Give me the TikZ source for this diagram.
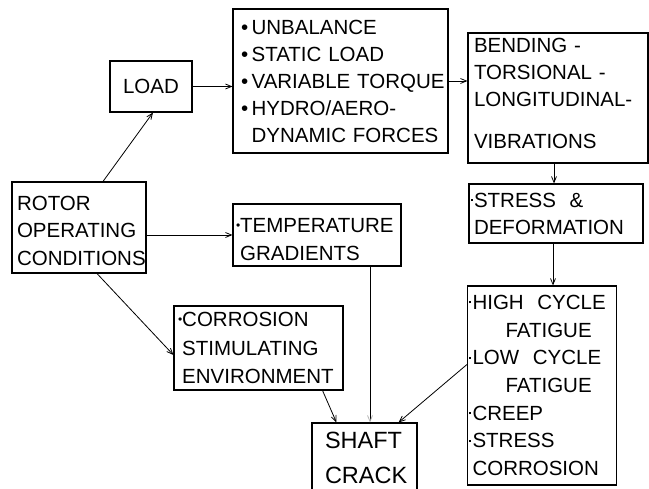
\documentclass[tikz,border=0pt]{standalone}
\usepackage{fontspec}
\setmainfont{Liberation Sans}
\usetikzlibrary{arrows.meta}
\newcommand\mybul{\textbullet\,}
\newcommand\sbul{\raisebox{3pt}{\fontsize{12}{12}\selectfont\textbullet}}
\newcommand\sdot{\llap{\rule[6pt]{2pt}{2pt}\hspace{1.5pt}}}
\begin{document}
\begin{tikzpicture}[x=1pt,y=-1pt,
  box/.style={draw, line width=1.1pt, inner ysep=0pt, align=left,
    font=\fontsize{20.5}{27}\selectfont},
  arr/.style={line width=0.8pt, -{Straight Barb[length=6pt,width=5pt]}}]
\clip (0,0) rectangle (649,489);
\fill[white] (0,0) rectangle (649,489);

\node[box, align=center, inner xsep=0pt, minimum width=82pt, minimum height=51pt] (load) at (151,86.5) {LOAD};

\node[box, inner xsep=8pt, text width=199pt, minimum width=215pt, minimum height=144pt] (unb) at (340.5,81)
  {\mbox{\mybul UNBALANCE}\\\mbox{\mybul STATIC LOAD}\\\mbox{\mybul VARIABLE TORQUE}\\\mbox{\mybul HYDRO/AERO-}\\\mbox{\phantom{\mybul}DYNAMIC FORCES}};

\node[box, inner xsep=6pt, text width=168pt, minimum width=180pt, minimum height=130pt] (vib) at (558,98)
  {\mbox{BENDING -}\\\mbox{TORSIONAL -}\\\mbox{LONGITUDINAL-}\\[15pt]\mbox{VIBRATIONS}\rule[-9pt]{0pt}{9pt}};

\node[box, inner xsep=5pt, text width=164pt, minimum width=174pt, minimum height=59pt] (stress) at (556,213.5)
  {\mbox{\sdot STRESS\ \ \&}\\\mbox{DEFORMATION}};

\node[box, font=\fontsize{20.5}{27.7}\selectfont, inner xsep=5pt, text width=139pt, minimum width=149pt, minimum height=199pt] (hc) at (542,385.5)
  {\mbox{\sdot HIGH\ \ CYCLE}\\\mbox{\hspace*{33pt}FATIGUE}\\\mbox{\sdot LOW\ \ CYCLE}\\\mbox{\hspace*{33pt}FATIGUE}\\\mbox{\sdot CREEP}\\\mbox{\sdot STRESS}\\\mbox{CORROSION}};

\node[box, font=\fontsize{20.5}{27.5}\selectfont, inner xsep=5pt, text width=124pt, minimum width=134pt, minimum height=91pt] (rotor) at (79,227.5)
  {\mbox{\rule{0pt}{20.5pt}ROTOR}\\\mbox{OPERATING}\\\mbox{CONDITIONS}};

\node[box, font=\fontsize{20.5}{28}\selectfont, inner xsep=3pt, text width=162pt, minimum width=168pt, minimum height=62pt] (temp) at (317,235)
  {\mbox{\rule{0pt}{22.5pt}\sbul TEMPERATURE}\\\mbox{\phantom{\sbul}GRADIENTS}};

\node[box, font=\fontsize{20.5}{28.5}\selectfont, inner xsep=4pt, text width=161pt, minimum width=169pt, minimum height=84pt] (corr) at (258.5,348)
  {\mbox{\sbul CORROSION}\\\mbox{\phantom{\sbul}STIMULATING}\\\mbox{\phantom{\sbul}ENVIRONMENT}};

\node[box, font=\fontsize{23.5}{35}\selectfont, inner xsep=13pt, text width=79pt, minimum width=105pt, minimum height=77pt] (shaft) at (364.5,461.5)
  {SHAFT\\CRACK\rule[-7pt]{0pt}{7pt}};

\draw[arr] ([xshift=24pt]rotor.north) -- ([xshift=2pt]load.south);
\draw[arr] (load.east) -- (unb.west |- load.east);
\draw[arr] (unb.east) -- (vib.west |- unb.east);
\draw[arr] (554,0 |- vib.south) -- (554,0 |- stress.north);
\draw[arr] (553,0 |- stress.south) -- (553,0 |- hc.north);
\draw[arr] (rotor.east |- temp.west) -- (temp.west);
\draw[arr] ([xshift=18pt]rotor.south) -- ([yshift=-7pt]corr.west);
\draw[arr] ([xshift=-21pt]corr.south east) -- ([xshift=25pt]shaft.north west);
\draw[line width=0.8pt, -{Straight Barb[length=6pt,width=5pt,color=black!30]}] (370,0 |- temp.south) -- (370,0 |- shaft.north);
\draw[arr] ([yshift=21pt]hc.west) -- ([xshift=-19pt]shaft.north east);
\end{tikzpicture}
\end{document}
